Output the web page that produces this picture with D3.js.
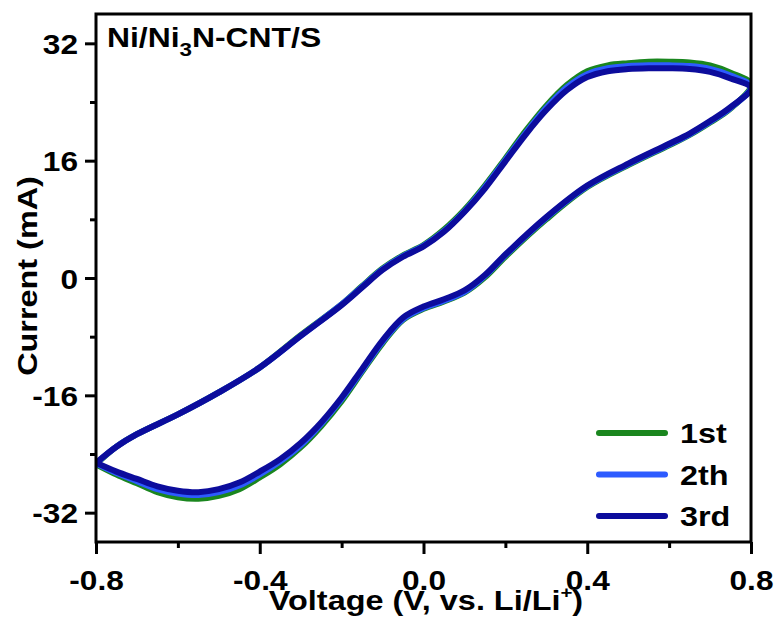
<!DOCTYPE html>
<html>
<head>
<meta charset="utf-8">
<script src="https://cdn.jsdelivr.net/npm/d3@7"></script>
<style>
  html, body { margin: 0; padding: 0; background: #fff; }
  svg { display: block; }
  text { font-family: "Liberation Sans", Arial, sans-serif; font-weight: bold; fill: #000; }
</style>
</head>
<body>
<svg id="chart" width="777" height="617"></svg>
<script>
// ---- data ----
const voltage = [-0.8,-0.75,-0.7,-0.6,-0.5,-0.4,-0.3,-0.2,-0.15,-0.1,-0.05,0,0.05,0.1,0.15,0.2,0.25,0.3,0.35,0.4,0.45,0.5,0.55,0.6,0.65,0.7,0.75,0.8,
                 0.75,0.7,0.65,0.6,0.5,0.4,0.3,0.2,0.15,0.1,0.05,0,-0.05,-0.1,-0.15,-0.2,-0.25,-0.3,-0.35,-0.4,-0.45,-0.5,-0.55,-0.6,-0.65,-0.7,-0.75,-0.8];
const current1st = [-25.4,-23.0,-21.3,-18.6,-15.6,-12.2,-7.8,-3.6,-1.1,1.3,3.1,4.5,6.6,9.3,12.6,16.3,20.1,23.5,26.3,28.2,29.0,29.3,29.5,29.5,29.4,29.0,28.0,26.4,
                    23.1,21.2,19.5,18.1,15.4,12.4,8.0,2.9,0.1,-2.0,-3.2,-4.2,-5.7,-8.9,-12.8,-16.8,-20.2,-23.1,-25.4,-27.2,-28.8,-29.7,-30.1,-29.9,-29.2,-28.0,-26.8,-25.4];
const current2th = [-25.3,-23.0,-21.3,-18.6,-15.6,-12.2,-7.9,-3.6,-1.2,1.2,3.0,4.4,6.4,9.1,12.4,16.1,19.8,23.2,26.0,27.8,28.6,28.9,29.0,29.0,28.9,28.5,27.6,26.1,
                    23.2,21.3,19.6,18.2,15.5,12.5,8.2,3.1,0.3,-1.9,-3.1,-4.1,-5.6,-8.7,-12.6,-16.5,-19.9,-22.8,-25.0,-26.8,-28.3,-29.2,-29.6,-29.4,-28.8,-27.7,-26.6,-25.3];
const current3rd = [-25.2,-23.0,-21.3,-18.6,-15.6,-12.2,-7.9,-3.7,-1.3,1.1,2.9,4.3,6.3,9.0,12.2,15.9,19.6,22.9,25.6,27.4,28.2,28.5,28.6,28.6,28.5,28.1,27.2,25.9,
                    23.3,21.4,19.7,18.3,15.6,12.6,8.3,3.2,0.4,-1.7,-2.9,-3.9,-5.4,-8.5,-12.4,-16.3,-19.7,-22.5,-24.7,-26.4,-27.9,-28.8,-29.2,-29.0,-28.4,-27.4,-26.4,-25.2];
const seriesNames = ["1st", "2th", "3rd"];
const seriesColors = ["#1a861e", "#2d5bff", "#0c0c9c"];
const xMajorTicks = [-0.8, -0.4, 0.0, 0.4, 0.8];
const xMinorTicks = [-0.6, -0.2, 0.2, 0.6];
const yMajorTicks = [-32, -16, 0, 16, 32];
const yMinorTicks = [-24, -8, 8, 24];

// ---- chart ----
const svg = d3.select("#chart");
const L = 96, R = 751, T = 14, B = 542;
const x = d3.scaleLinear().domain([-0.8, 0.8]).range([L, R]);
const y = d3.scaleLinear().domain([-36, 36]).range([B, T]);

svg.append("defs").append("clipPath").attr("id", "clip")
  .append("rect").attr("x", L).attr("y", T).attr("width", R - L).attr("height", B - T);

const allSeries = [current1st, current2th, current3rd].map((cur, i) => ({
  name: seriesNames[i], color: seriesColors[i],
  pts: voltage.map((v, k) => [v, cur[k]])
}));

const line = d3.line().x(d => x(d[0])).y(d => y(d[1])).curve(d3.curveCatmullRom.alpha(0.5));
const gLines = svg.append("g").attr("clip-path", "url(#clip)");
allSeries.forEach(s => {
  gLines.append("path").attr("d", line(s.pts)).attr("fill", "none")
    .attr("stroke", s.color).attr("stroke-width", 6)
    .attr("stroke-linejoin", "round").attr("stroke-linecap", "round");
});

// axes
const sx = 1.13;
const xAxis = svg.append("g").attr("transform", `translate(0,${B})`)
  .call(d3.axisBottom(x).tickValues(xMajorTicks).tickSize(12).tickFormat(d => d.toFixed(1)));
const xMinor = svg.append("g").attr("transform", `translate(0,${B})`)
  .call(d3.axisBottom(x).tickValues(xMinorTicks).tickSize(6).tickFormat(""));
const yAxis = svg.append("g").attr("transform", `translate(${L},0)`)
  .call(d3.axisLeft(y).tickValues(yMajorTicks).tickSize(11).tickFormat(d => String(d)));
const yMinor = svg.append("g").attr("transform", `translate(${L},0)`)
  .call(d3.axisLeft(y).tickValues(yMinorTicks).tickSize(6).tickFormat(""));

[xAxis, xMinor, yAxis, yMinor].forEach(g => {
  g.select(".domain").remove();
  g.selectAll("line").attr("stroke", "#000").attr("stroke-width", 3);
});
xAxis.selectAll("text").attr("y", 0).attr("dy", 0)
  .attr("transform", `translate(0,48) scale(${sx},1)`)
  .style("font-size", "28px").style("font-family", "'Liberation Sans', Arial, sans-serif").style("font-weight", "bold").attr("fill", "#000");
yAxis.selectAll("text").attr("x", 0).attr("dy", "0.36em")
  .attr("transform", `translate(-18,0) scale(${sx},1)`)
  .style("font-size", "28px").style("font-family", "'Liberation Sans', Arial, sans-serif").style("font-weight", "bold").attr("fill", "#000");

// frame
svg.append("rect").attr("x", L).attr("y", T).attr("width", R - L).attr("height", B - T)
  .attr("fill", "none").attr("stroke", "#000").attr("stroke-width", 3);

// title inside plot
const sT = 1.18;
const title = svg.append("text").attr("transform", `translate(107,47) scale(${sT},1)`).style("font-size", "27px");
title.append("tspan").text("Ni/Ni");
title.append("tspan").text("3").style("font-size", "19px").attr("dy", 9);
title.append("tspan").text("N-CNT/S").attr("dy", -9);

// x axis title
const xt = svg.append("text").attr("text-anchor", "middle")
  .attr("transform", `translate(426,610) scale(1.2,1)`).style("font-size", "27px");
xt.append("tspan").text("Voltage (V, vs. Li/Li");
xt.append("tspan").text("+").style("font-size", "17px").attr("dy", -12);
xt.append("tspan").text(")").attr("dy", 12);

// y axis title
svg.append("text").attr("text-anchor", "middle")
  .attr("transform", `translate(37,276) rotate(-90) scale(1.2,1)`).style("font-size", "27px")
  .text("Current (mA)");

// legend
const lg = svg.append("g");
allSeries.forEach((s, i) => {
  const ly = 433 + i * 41.5;
  lg.append("line").attr("x1", 599).attr("x2", 665).attr("y1", ly).attr("y2", ly)
    .attr("stroke", s.color).attr("stroke-width", 6).attr("stroke-linecap", "round");
  lg.append("text").attr("transform", `translate(680,${ly + 10}) scale(1.2,1)`)
    .style("font-size", "27px").text(s.name);
});
</script>
</body>
</html>
